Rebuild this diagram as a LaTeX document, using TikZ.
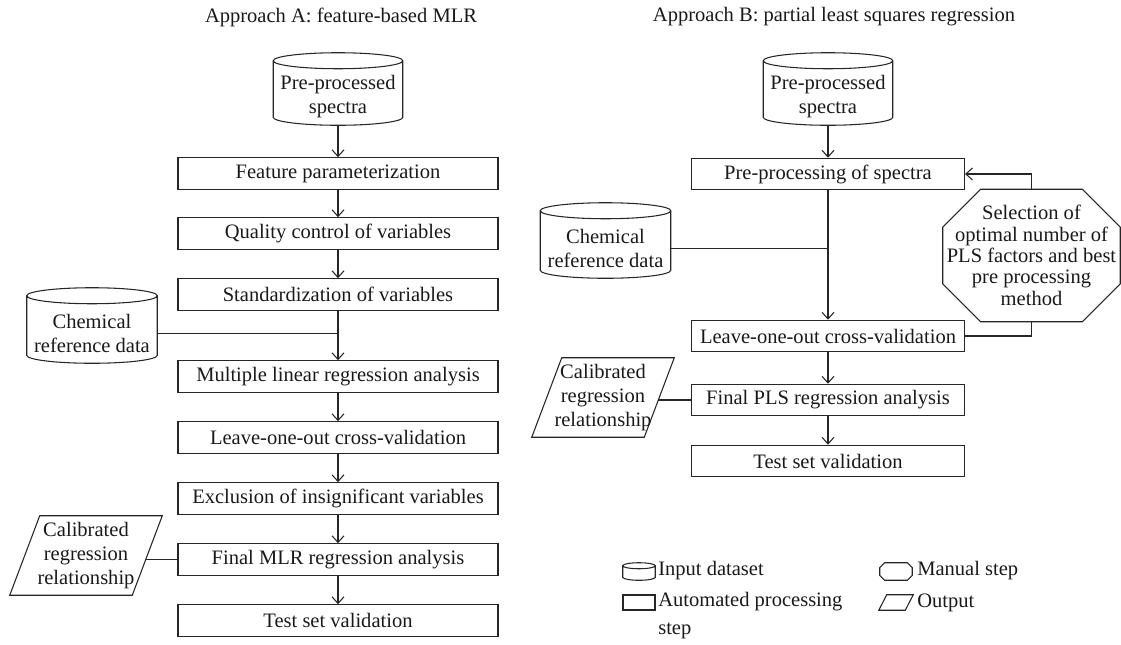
\documentclass[tikz,border=0pt]{standalone}
\usepackage{fontspec}
\setmainfont{Liberation Serif}
\usetikzlibrary{arrows.meta,calc}
\newcommand\fsz{\fontsize{15.4pt}{18pt}\selectfont}
\newcommand\fszoct{\fontsize{15.4pt}{16pt}\selectfont}
\newcommand\fszleg{\fontsize{15.4pt}{21pt}\selectfont}
% cylinder outline around a node: #1 node, #2 half height of the end ellipse
\newcommand\cylshape[2]{%
  \draw[shapeline] let \p1=(#1.north west), \p2=(#1.north east), \n1={(\x2-\x1)/2} in
    ([yshift=#2]#1.north west) -- ([yshift=#2]#1.south west)
    arc[start angle=180, end angle=360, x radius=\n1, y radius=#2]
    -- ([yshift=#2]#1.north east)
    ([yshift=#2]#1.north) ellipse[x radius=\n1, y radius=#2];}
% octagon outline: #1 node, #2 chamfer
\newcommand\octshape[2]{%
  \draw[shapeline] ([xshift=#2]#1.north west) -- ([xshift=-#2]#1.north east)
    -- ([yshift=-#2]#1.north east) -- ([yshift=#2]#1.south east)
    -- ([xshift=-#2]#1.south east) -- ([xshift=#2]#1.south west)
    -- ([yshift=#2]#1.south west) -- ([yshift=-#2]#1.north west) -- cycle;}
% parallelogram outline: #1 node, #2 skew
\newcommand\parashape[2]{%
  \draw[shapeline] ([xshift=#2]#1.north west) -- (#1.north east)
    -- ([xshift=-#2]#1.south east) -- (#1.south west) -- cycle;}
\begin{document}
\begin{tikzpicture}[x=0.75pt,y=-0.75pt,
  shapeline/.style={draw=black!85, line width=0.8pt},
  every node/.style={font=\fsz, text=black!90},
  procA/.style={draw=black!85, line width=0.8pt, minimum width=240pt, minimum height=23.6pt, inner sep=0pt},
  procB/.style={draw=black!85, line width=0.8pt, minimum width=204.75pt, minimum height=23.6pt, inner sep=0pt},
  cyl/.style={inner sep=0pt, align=center, minimum width=96.75pt, minimum height=42pt},
  chem/.style={inner sep=0pt, align=center, minimum width=97.5pt, minimum height=44.25pt},
  octn/.style={inner sep=0pt, align=center, font=\fszoct, minimum width=132.75pt, minimum height=99pt},
  para/.style={inner sep=0pt, align=center, minimum height=59.25pt},
  lcyl/.style={inner sep=0pt, minimum width=24pt, minimum height=8.25pt},
  lrect/.style={draw=black!85, line width=0.8pt, inner sep=0pt, minimum width=24pt, minimum height=11.25pt},
  loct/.style={inner sep=0pt, minimum width=24pt, minimum height=12.75pt},
  lpara/.style={inner sep=0pt, minimum width=25.5pt, minimum height=11.25pt},
  legtext/.style={anchor=west, inner sep=0pt, align=left},
  flow/.style={draw=black!85, line width=0.8pt, -{Straight Barb[length=5pt,width=9pt]}},
  link/.style={draw=black!85, line width=0.8pt},
]
\useasboundingbox (0,0) rectangle (1121,644);

% titles
\node (tA) at (341,17) {Approach A: feature-based MLR};
\node (tB) at (834,17) {Approach B: partial least squares regression};

% Approach A
\node[cyl] (cA) at (338,97) {Pre-processed\\spectra};
\node[procA] (a1) at (338,173.5) {Feature parameterization};
\node[procA] (a2) at (338,233.5) {Quality control of variables};
\node[procA] (a3) at (338,294.5) {Standardization of variables};
\node[chem] (chA) at (92,333.5) {Chemical\\reference data};
\node[procA] (a4) at (338,376.5) {Multiple linear regression analysis};
\node[procA] (a5) at (338,437.5) {Leave-one-out cross-validation};
\node[procA] (a6) at (338,498.5) {Exclusion of insignificant variables};
\node[procA] (a7) at (338,559.5) {Final MLR regression analysis};
\node[procA] (a8) at (338,620.5) {Test set validation};
\node[para, minimum width=114pt] (pA) at (86,555.5) {Calibrated\\regression\\relationship};
\coordinate (calA) at (146,559.5);

\cylshape{cA}{6pt}
\cylshape{chA}{6pt}
\parashape{pA}{22.5pt}

\draw[flow] (cA.south) -- (a1.north);
\draw[flow] (a1) -- (a2);
\draw[flow] (a2) -- (a3);
\draw[flow] (a3) -- (a4);
\draw[link] (chA.east) -- (chA.east -| a3.south);
\draw[flow] (a4) -- (a5);
\draw[flow] (a5) -- (a6);
\draw[flow] (a6) -- (a7);
\draw[flow] (a7) -- (a8);
\draw[link] (calA) -- (a7.west);

% Approach B
\node[cyl] (cB) at (828,97) {Pre-processed\\spectra};
\node[procB] (b1) at (828,174) {Pre-processing of spectra};
\node[chem] (chB) at (605.5,248.5) {Chemical\\reference data};
\node[octn] (oct) at (1031.5,255.5) {Selection of\\optimal number of\\PLS factors and best\\pre processing\\method};
\node[procB] (b2) at (828,336) {Leave-one-out cross-validation};
\node[procB] (b3) at (828,400) {Final PLS regression analysis};
\node[procB] (b4) at (828,461) {Test set validation};
\node[para, minimum width=106.5pt] (pB) at (603,397.5) {Calibrated\\regression\\relationship};
\coordinate (calB) at (658,400);

\cylshape{cB}{6pt}
\cylshape{chB}{6pt}
\octshape{oct}{28.5pt}
\parashape{pB}{22.5pt}

\draw[flow] (cB.south) -- (b1.north);
\draw[flow] (b1.south) -- (b2.north);
\draw[link] (chB.east) -- (chB.east -| b1.south);
\draw[flow] (b2) -- (b3);
\draw[flow] (b3) -- (b4);
\draw[flow] (oct.north) |- (b1.east);
\draw[link] (b2.east) -| (oct.south);
\draw[link] (calB) -- (b3.west);

% legend
\node[lcyl] (lg1) at (639,574.5) {};
\node[legtext] (lt1) at (658,571) {Input dataset};
\node[lrect] (lg2) at (639,602.5) {};
\node[legtext, font=\fszleg] (lt2) at (658,616) {Automated processing\\step};
\node[loct] (lg3) at (896,571.5) {};
\node[legtext] (lt3) at (917,571) {Manual step};
\node[lpara] (lg4) at (896,602.5) {};
\node[legtext] (lt4) at (917,602.5) {Output};
\cylshape{lg1}{2.25pt}
\octshape{lg3}{3.75pt}
\parashape{lg4}{6pt}
\end{tikzpicture}
\end{document}
